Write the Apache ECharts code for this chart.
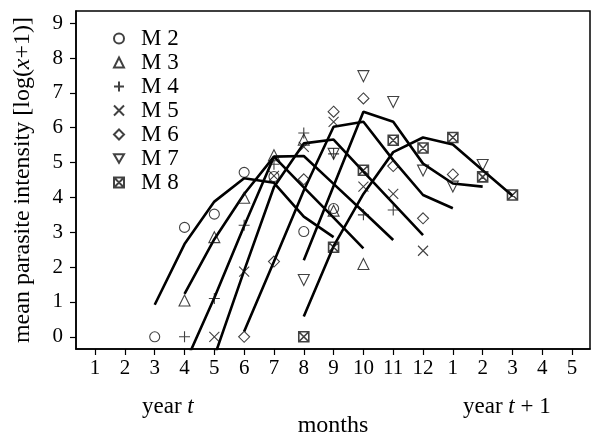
<!DOCTYPE html>
<html>
<head>
<meta charset="utf-8">
<script src="https://cdn.jsdelivr.net/npm/echarts@6/dist/echarts.min.js"></script>
<style>html,body{margin:0;padding:0;background:#fff}#c{width:593px;height:437px}</style>
</head>
<body>
<div id="c"></div>
<script>
// tick labels on the month axis (positions 0..16)
const tickLabels = ['1','2','3','4','5','6','7','8','9','10','11','12','1','2','3','4','5'];
const yTicks = [0,1,2,3,4,5,6,7,8,9];

// month positions (index on the axis) for each series
const m2Months = [2,3,4,5,6,7,8];
const m3Months = [3,4,5,6,7,8,9];
const m4Months = [3,4,5,6,7,8,9,10];
const m5Months = [4,5,6,7,8,9,10,11];
const m6Months = [5,6,7,8,9,10,11,12];
const m7Months = [7,8,9,10,11,12,13];
const m8Months = [7,8,9,10,11,12,13,14];

// observed mean intensities
const m2Obs = [0,3.14,3.52,4.72,4.6,3.02,3.68];
const m3Obs = [1.04,2.86,3.99,5.21,5.66,3.62,2.09];
const m4Obs = [0,1.1,3.2,4.95,5.85,5.25,3.5,3.64];
const m5Obs = [0,1.87,4.62,5.45,6.17,4.31,4.1,2.47];
const m6Obs = [0,2.16,4.52,6.46,6.84,4.9,3.4,4.66];
const m7Obs = [1.63,5.25,7.48,6.74,4.77,4.31,4.93];
const m8Obs = [0,2.57,4.78,5.64,5.42,5.72,4.59,4.07];

// fitted curves
const m2Fit = [0.92,2.66,3.88,4.55,4.42,3.45,2.86];
const m3Fit = [1.23,2.8,4.1,5.17,4.29,3.42,2.54];
const m4Fit = [-0.8,1.12,3.18,5.17,5.19,4.39,3.59,2.78];
const m5Fit = [-0.57,1.9,4.3,5.55,5.66,4.74,3.83,2.92];
const m6Fit = [0.15,2.16,4.2,6.03,6.17,5.07,4.07,3.69];
const m7Fit = [2.2,4.33,6.46,6.17,4.97,4.4,4.31];
const m8Fit = [0.58,2.6,4.1,5.3,5.72,5.52,4.78,4.05];

const names = ['M 2','M 3','M 4','M 5','M 6','M 7','M 8'];
const monthsList = [m2Months,m3Months,m4Months,m5Months,m6Months,m7Months,m8Months];
const obsList = [m2Obs,m3Obs,m4Obs,m5Obs,m6Obs,m7Obs,m8Obs];
const fitList = [m2Fit,m3Fit,m4Fit,m5Fit,m6Fit,m7Fit,m8Fit];

const symbols = [
  ['circle', 10],
  ['triangle', 11],
  ['path://M0,-5L0,5M-5,0L5,0', 11],
  ['path://M-5,-5L5,5M5,-5L-5,5', 10],
  ['diamond', 11],
  ['path://M-5,-4.3L5,-4.3L0,4.3Z', 11],
  ['path://M-5,-5L5,-5L5,5L-5,5ZM-5,-5L5,5M5,-5L-5,5', 10]
];

const FONT = '"Liberation Serif", "DejaVu Serif", serif';
const series = [];
for (let i = 0; i < names.length; i++) {
  series.push({
    name: 'fit' + i,
    type: 'line',
    data: monthsList[i].map((m, k) => [m, fitList[i][k]]),
    showSymbol: false,
    symbol: 'none',
    clip: true,
    lineStyle: {color: '#000', width: 2.6},
    z: 2,
    silent: true
  });
}
for (let i = 0; i < names.length; i++) {
  series.push({
    name: names[i],
    type: 'scatter',
    data: monthsList[i].map((m, k) => [m, obsList[i][k]]),
    symbol: symbols[i][0],
    symbolSize: symbols[i][1],
    itemStyle: {color: 'rgba(255,255,255,0)', borderColor: '#111', borderWidth: i === 6 ? 1.6 : 1.1},
    z: 3,
    silent: true
  });
}

const chart = echarts.init(document.getElementById('c'), null, {renderer: 'canvas'});
chart.setOption({
  animation: false,
  backgroundColor: '#fff',
  grid: {left: 76, right: 3, top: 11, bottom: 88, show: true, borderColor: '#000', borderWidth: 1.5, backgroundColor: 'transparent', containLabel: false, outerBoundsMode: 'none'},
  legend: {
    data: names,
    orient: 'vertical',
    left: 113,
    top: 27,
    padding: 0,
    itemWidth: 10,
    itemHeight: 10,
    itemGap: 1,
    selectedMode: false,
    textStyle: {fontFamily: FONT, fontSize: 23, color: '#000', lineHeight: 23, padding: [0, 0, 0, 12]}
  },
  xAxis: {
    type: 'value',
    min: -0.64,
    max: 16.6,
    name: 'months',
    nameLocation: 'middle',
    nameGap: 65,
    nameTextStyle: {fontFamily: FONT, fontSize: 24, color: '#000'},
    axisLine: {show: true, onZero: false, lineStyle: {color: '#000', width: 1.5}},
    axisTick: {show: true, length: 6, customValues: tickLabels.map((t, i) => i), lineStyle: {color: '#000', width: 1.2}},
    axisLabel: {customValues: tickLabels.map((t, i) => i), formatter: v => tickLabels[Math.round(v)], margin: 9, fontFamily: FONT, fontSize: 21, color: '#000'},
    splitLine: {show: false}
  },
  yAxis: {
    type: 'value',
    min: -0.35,
    max: 9.35,
    name: 'mean parasite intensity [log({i|x}+1)]',
    nameLocation: 'middle',
    nameGap: 41,
    nameTextStyle: {fontFamily: FONT, fontSize: 24, color: '#000', rich: {i: {fontFamily: FONT, fontSize: 24, fontStyle: 'italic', color: '#000'}}},
    axisLine: {show: true, onZero: false, lineStyle: {color: '#000', width: 1.5}},
    axisTick: {show: true, length: 6, customValues: yTicks, lineStyle: {color: '#000', width: 1.2}},
    axisLabel: {customValues: yTicks, margin: 13, fontFamily: FONT, fontSize: 21, color: '#000'},
    splitLine: {show: false}
  },
  graphic: [
    {type: 'text', left: 142, top: 395, style: {text: '{a|year }{b|t}', rich: {a: {fontFamily: FONT, fontSize: 23, fill: '#000'}, b: {fontFamily: FONT, fontSize: 23, fontStyle: 'italic', fill: '#000'}}}},
    {type: 'text', left: 463, top: 395, style: {text: '{a|year }{b|t}{a| + 1}', rich: {a: {fontFamily: FONT, fontSize: 23, fill: '#000'}, b: {fontFamily: FONT, fontSize: 23, fontStyle: 'italic', fill: '#000'}}}}
  ],
  series: series
});
</script>
</body>
</html>
